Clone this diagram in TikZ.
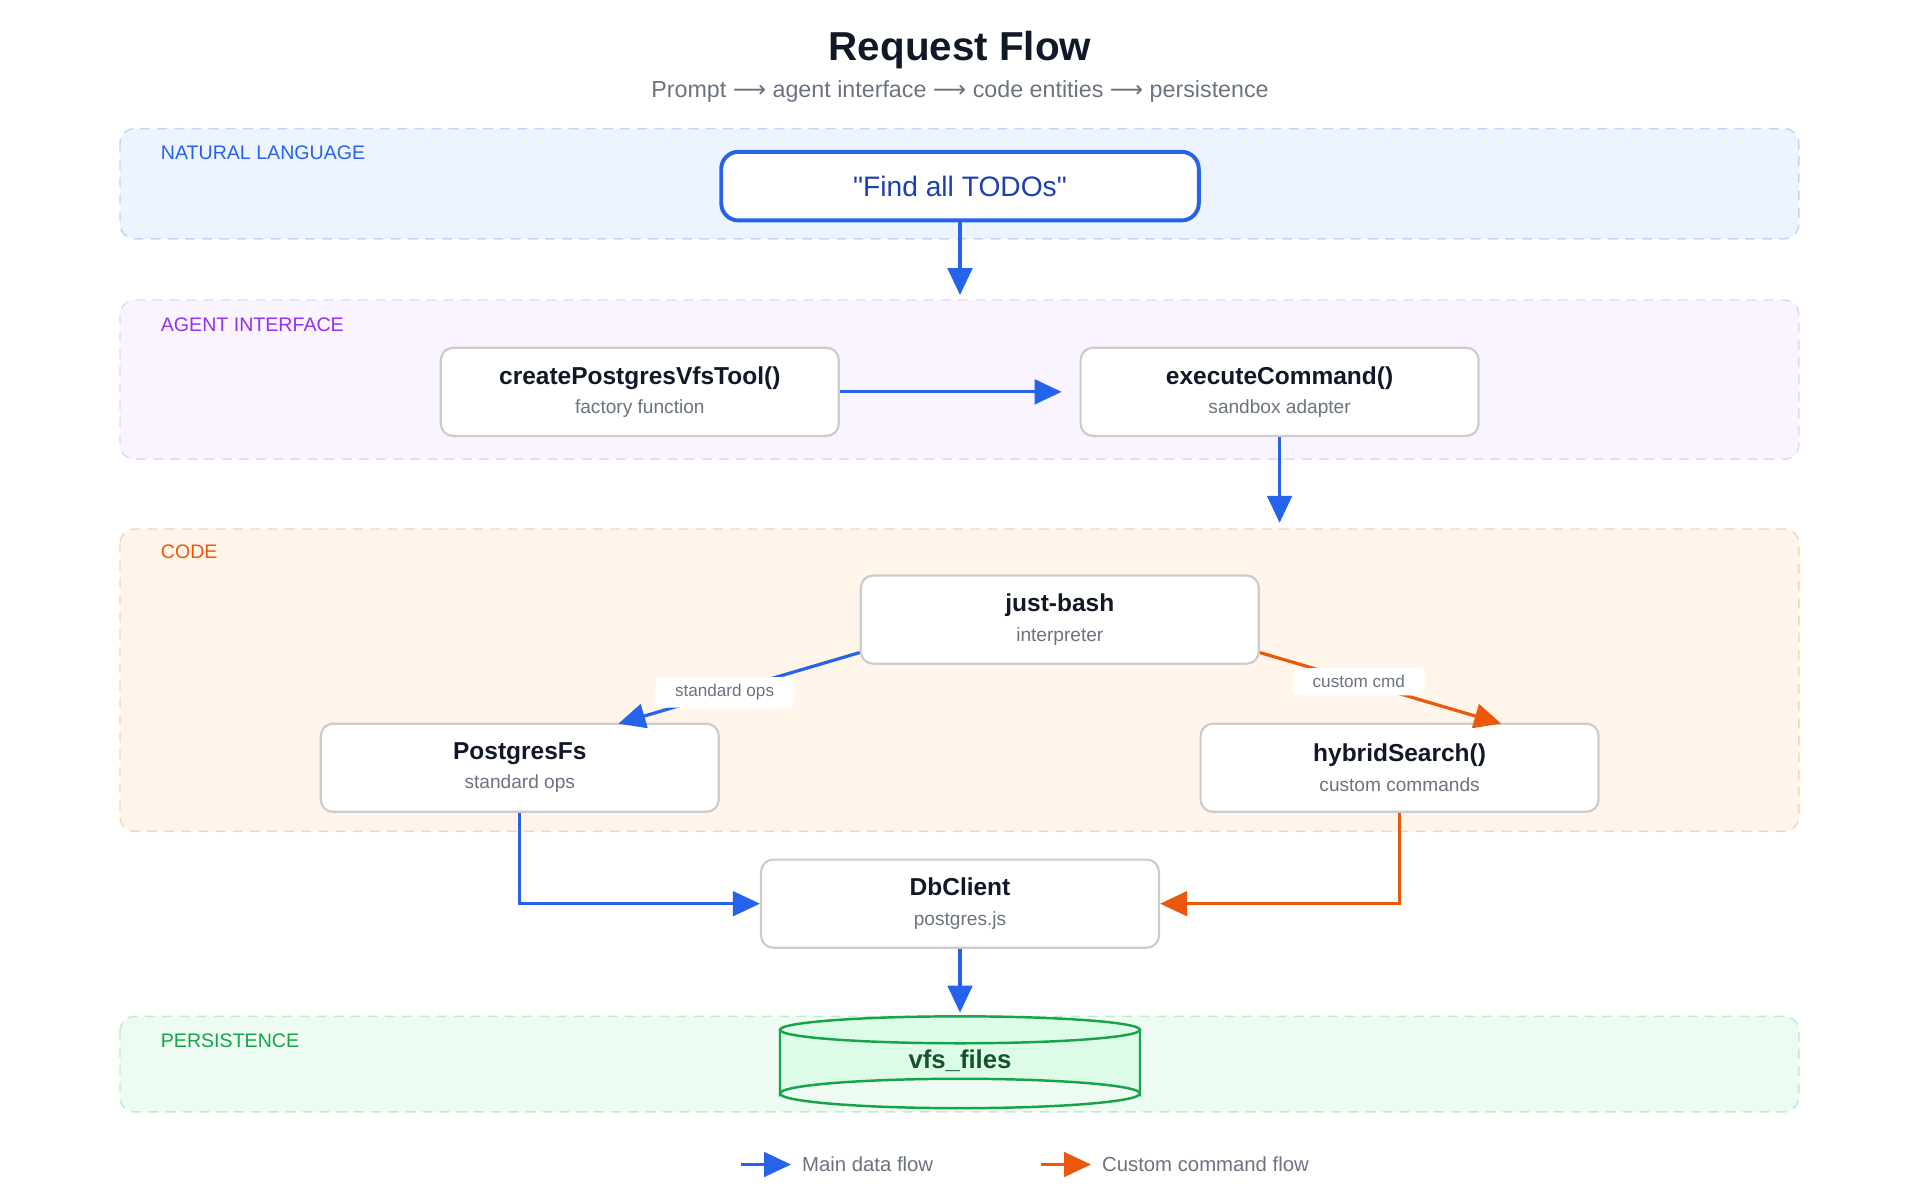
\documentclass[tikz,border=0pt]{standalone}
\usepackage{fontspec}
\setmainfont{Liberation Sans}
\newfontfamily\symf{DejaVu Sans}
\newfontfamily\qf[Ligatures=ResetAll]{Liberation Sans}
\usetikzlibrary{arrows.meta}
\definecolor{blu}{HTML}{2563EB}
\definecolor{org}{HTML}{EA580C}
\definecolor{pur}{HTML}{9333EA}
\definecolor{grn}{HTML}{16A34A}
\definecolor{txt}{HTML}{111827}
\definecolor{sub}{HTML}{6B7280}
\definecolor{f1}{HTML}{EEF4FF}\definecolor{d1}{HTML}{BFD5FB}
\definecolor{f2}{HTML}{F9F4FF}\definecolor{d2}{HTML}{E6D2FB}
\definecolor{f3}{HTML}{FFF5EB}\definecolor{d3}{HTML}{FBD3A8}
\definecolor{f4}{HTML}{EEFBF2}\definecolor{d4}{HTML}{BDEBCC}
\definecolor{ptxt}{HTML}{1E40AF}
\definecolor{cylf}{HTML}{DCFCE7}
\definecolor{cylt}{HTML}{14532D}
\tikzset{
 band/.style={rounded corners=6pt,line width=0.6pt,dash pattern=on 4pt off 3pt},
 bandlbl/.style={anchor=west,inner sep=0pt,font=\fontsize{8}{9}\selectfont},
 box/.style={draw=black!20,line width=0.9pt,fill=white,rounded corners=5pt,minimum width=162.5pt,minimum height=36pt,align=center,text=txt},
 flow/.style={line width=1.3pt,-{Triangle[length=11pt,width=10pt]}},
 elab/.style={fill=white,rounded corners=2pt,font=\fontsize{7}{8}\selectfont,text=sub,inner xsep=8pt,inner ysep=3pt}
}
\newcommand{\bx}[2]{{\bfseries\fontsize{10}{12}\selectfont #1}\\[0pt]{\fontsize{7.8}{9}\selectfont\color{sub}#2}}
\newcommand{\ar}{{\symf ⟶}}
\begin{document}
\begin{tikzpicture}[x=0.5pt,y=-0.5pt]
\useasboundingbox (0,0) rectangle (1568,980);
\node[font=\bfseries\fontsize{16.5}{20}\selectfont,text=txt] (title) at (784,41) {Request Flow};
\node[font=\fontsize{9.5}{11}\selectfont,text=sub] (subt) at (784,75) {Prompt \ar{} agent interface \ar{} code entities \ar{} persistence};
% bands
\draw[band,fill=f1,draw=d1] (98,105) rectangle (1469,195);
\node[bandlbl,text=blu] (l1) at (131,125) {NATURAL LANGUAGE};
\draw[band,fill=f2,draw=d2] (98,245) rectangle (1469,375);
\node[bandlbl,text=pur] (l2) at (131,265) {AGENT INTERFACE};
\draw[band,fill=f3,draw=d3] (98,432) rectangle (1469,679);
\node[bandlbl,text=org] (l3) at (131,451) {CODE};
\draw[band,fill=f4,draw=d4] (98,830) rectangle (1469,908);
\node[bandlbl,text=grn] (l4) at (131,850) {PERSISTENCE};
% nodes
\node[draw=blu,line width=1.6pt,fill=white,rounded corners=7pt,minimum width=195pt,minimum height=28pt,text=ptxt,font=\qf\fontsize{11.5}{13}\selectfont] (prompt) at (784,152) {"Find all TODOs"};
\node[box] (create) at (522.5,320) {\bx{createPostgresVfsTool()}{factory function}};
\node[box] (exec) at (1045,320) {\bx{executeCommand()}{sandbox adapter}};
\node[box] (jb) at (865.5,506) {\bx{just-bash}{interpreter}};
\node[box] (pfs) at (424.5,627) {\bx{PostgresFs}{standard ops}};
\node[box] (hs) at (1143,627) {\bx{hybridSearch()}{custom commands}};
\node[box] (db) at (784,738) {\bx{DbClient}{postgres.js}};
% cylinder
\draw[grn,line width=1pt,fill=cylf] (637,841) -- (637,893) arc[start angle=180,end angle=360,x radius=147,y radius=12] -- (931,841);
\draw[grn,line width=1pt,fill=cylf] (784,841) ellipse[x radius=147,y radius=11];
\draw[grn,line width=1pt] (637,893) arc[start angle=180,end angle=0,x radius=147,y radius=12];
\node[text=cylt,font=\bfseries\fontsize{10.5}{12}\selectfont] (vfs) at (784,866) {vfs\_files};
\coordinate (vfstop) at (784,827);
% arrows
\draw[flow,blu] (prompt.south) -- (784,241);
\draw[flow,blu] (create.east) -- (867,320);
\draw[flow,blu] (exec.south) -- (1045,427);
\draw[flow,blu] (jb.south west) ++(0,-10) -- node[elab,pos=0.56]{standard ops} (505,591);
\draw[flow,org] (jb.south east) ++(0,-10) -- node[elab,pos=0.41]{custom cmd} (1226,591);
\draw[flow,blu] (pfs.south) |- (db.west);
\draw[flow,org] (hs.south) |- (db.east);
\draw[flow,blu] (db.south) -- (vfstop);
% legend
\coordinate (a1) at (605,951); \coordinate (a2) at (646,951);
\coordinate (b1) at (850,951); \coordinate (b2) at (891,951);
\draw[flow,blu] (a1) -- (a2);
\draw[flow,org] (b1) -- (b2);
\node[anchor=west,text=sub,font=\fontsize{8.3}{10}\selectfont] (t1) at (648,951) {Main data flow};
\node[anchor=west,text=sub,font=\fontsize{8.3}{10}\selectfont] (t2) at (893,951) {Custom command flow};
\end{tikzpicture}
\end{document}
